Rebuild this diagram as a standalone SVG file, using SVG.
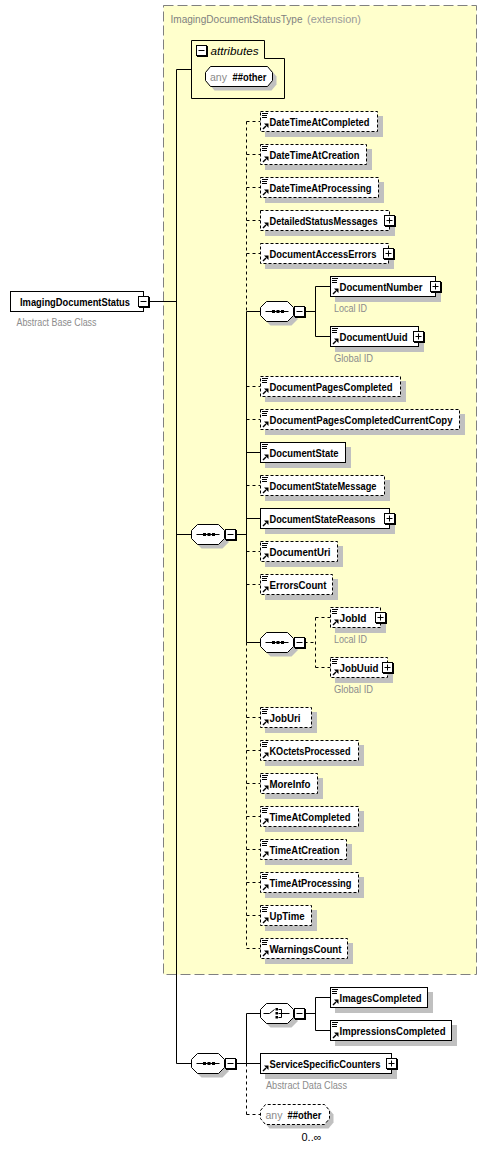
<svg xmlns="http://www.w3.org/2000/svg" xmlns:xlink="http://www.w3.org/1999/xlink" width="487" height="1149" viewBox="0 0 487 1149">
<style>
.ln{stroke:#000;stroke-width:1;fill:none}
.dl{stroke:#000;stroke-width:1;fill:none;stroke-dasharray:3,3}
.box{fill:#fff;stroke:#000;stroke-width:1}
.dbox{fill:#fff;stroke:#000;stroke-width:1;stroke-dasharray:3,2}
.sh{fill:#c0c0c0;stroke:none}
.nm{font-family:"Liberation Sans",Arial,sans-serif;font-size:11px;font-weight:bold;fill:#000}
.gl{font-family:"Liberation Sans",Arial,sans-serif;font-size:10.5px;fill:#8c8c8c}
.ttl{font-family:"Liberation Sans",Arial,sans-serif;font-size:10px;fill:#7f7f7f}
.it{font-family:"Liberation Sans",Arial,sans-serif;font-size:11px;font-style:italic;fill:#000}
.any{font-family:"Liberation Sans",Arial,sans-serif;font-size:11px;fill:#8c8c8c}
.occ{font-family:"Liberation Sans",Arial,sans-serif;font-size:11px;fill:#000}
</style>
<defs>
<path id="octp" d="M0,-4 L6,-10 H27 L33,-4 V4 L27,10 H6 L0,4 Z"/>
<g id="oct"><use xlink:href="#octp" href="#octp" transform="translate(4,4)" class="sh"/><use xlink:href="#octp" href="#octp" class="box"/></g>
<g id="seqic"><path d="M5,0 H28" class="ln"/><rect x="11.5" y="-1.5" width="3" height="3" fill="#000"/><rect x="16" y="-1.5" width="3" height="3" fill="#000"/><rect x="20.5" y="-1.5" width="3" height="3" fill="#000"/></g>
<g id="choiceic"><path d="M3,0 H9 L14,-4" class="ln"/><rect x="15" y="-5.5" width="2.5" height="2.5" fill="#000"/><rect x="15" y="-1.5" width="2.5" height="2.5" fill="#000"/><rect x="15" y="2.5" width="2.5" height="2.5" fill="#000"/><path d="M18,-4 H21 V4 H18 M18,0 H29" class="ln"/></g>
<g id="minus"><rect x="-4" y="-4" width="10" height="10" class="ln"/><rect x="-5" y="-5" width="10" height="10" class="box"/><path d="M-3,0 H3" class="ln"/></g>
<g id="plus"><rect x="-4" y="-4" width="10" height="10" class="ln"/><rect x="-5" y="-5" width="10" height="10" class="box"/><path d="M-3,0 H3 M0,-3 V3" class="ln"/></g>
<g id="icl"><path d="M1.5,2 H7.5 M1.5,4 H6.5 M1.5,6 H6.5" class="ln"/></g>
<g id="ica"><path d="M2.5,-2.5 L5.5,-5.5" stroke="#000" stroke-width="1.5" fill="none"/><path d="M3.5,-8 H8 V-3.5 Z" fill="#000"/></g>
</defs>
<rect width="487" height="1149" fill="#fff"/>

<g id="ImagingDocumentStatusType">
<rect x="163.5" y="5.5" width="313" height="969" fill="#ffffcc" stroke="#808080" stroke-dasharray="10,4"/>
<text class="ttl" x="170.5" y="23" textLength="132" lengthAdjust="spacingAndGlyphs">ImagingDocumentStatusType</text>
<text class="ttl" x="307" y="23" style="fill:#9a9a9a" textLength="54" lengthAdjust="spacingAndGlyphs">(extension)</text>
</g>

<g id="connectors">
<path class="ln" d="M148.5,301.5 H176.5 M176.5,69.5 V1063.5 M176.5,69.5 H191.5 M176.5,534.5 H191.5 M176.5,1063.5 H191.5"/>
<path class="ln" d="M235.5,534.5 H246.5 M246.5,311.5 V642.5 M246.5,311.5 H260.5 M246.5,452.5 H260.5 M246.5,518.5 H260.5 M246.5,642.5 H260.5"/>
<path class="dl" d="M246.5,121.5 V311.5 M246.5,642.5 V948.5"/>
<path class="dl" d="M246.5,121.5 H260.5 M246.5,154.5 H260.5 M246.5,187.5 H260.5 M246.5,220.5 H260.5 M246.5,253.5 H260.5 M246.5,386.5 H260.5 M246.5,419.5 H260.5 M246.5,485.5 H260.5 M246.5,551.5 H260.5 M246.5,584.5 H260.5 M246.5,717.5 H260.5 M246.5,750.5 H260.5 M246.5,783.5 H260.5 M246.5,816.5 H260.5 M246.5,849.5 H260.5 M246.5,882.5 H260.5 M246.5,915.5 H260.5 M246.5,948.5 H260.5"/>
<path class="ln" d="M304.5,311.5 H315.5 M315.5,286.5 V336.5 M315.5,286.5 H330.5 M315.5,336.5 H330.5"/>
<path class="dl" d="M304.5,642.5 H315.5 M315.5,617.5 V667.5 M315.5,617.5 H330.5 M315.5,667.5 H330.5"/>
<path class="ln" d="M235.5,1063.5 H246.5 M246.5,1013.5 V1063.5 M246.5,1013.5 H260.5 M246.5,1063.5 H260.5"/>
<path class="dl" d="M246.5,1063.5 V1114.5 M246.5,1114.5 H260.5"/>
<path class="ln" d="M304.5,1013.5 H315.5 M315.5,997.5 V1030.5 M315.5,997.5 H330.5 M315.5,1030.5 H330.5"/>
</g>

<g id="ImagingDocumentStatus">
<rect class="box" x="10.5" y="291.5" width="133" height="20"/>
<text class="nm" x="20" y="305.5" textLength="110" lengthAdjust="spacingAndGlyphs">ImagingDocumentStatus</text>
<use xlink:href="#minus" href="#minus" x="143.5" y="301.5"/>
<text class="gl" x="16.5" y="326" textLength="80" lengthAdjust="spacingAndGlyphs">Abstract Base Class</text>
</g>

<g id="attributes">
<path class="ln" d="M191.5,40.5 H264.5 V58.5 H284.5 V98.5 H191.5 Z"/>
<use xlink:href="#minus" href="#minus" x="201.5" y="50.5"/>
<text class="it" x="210.5" y="54.5" textLength="48" lengthAdjust="spacingAndGlyphs">attributes</text>
<path class="sh" d="M209.5,76.5 L214.5,70.5 H271.5 L276.5,76.5 V84.5 L271.5,90.5 H214.5 L209.5,84.5 Z"/>
<path class="box" stroke-linejoin="round" d="M205.5,72.5 L210.5,66.5 H267.5 L272.5,72.5 V80.5 L267.5,86.5 H210.5 L205.5,80.5 Z"/>
<text class="any" x="210" y="80.5" textLength="17" lengthAdjust="spacingAndGlyphs">any</text>
<text class="nm" x="232.5" y="80.5" textLength="34" lengthAdjust="spacingAndGlyphs">##other</text>
</g>

<g id="sequence-main">
<use xlink:href="#oct" href="#oct" x="191.5" y="534.5"/>
<use xlink:href="#seqic" href="#seqic" x="191.5" y="534.5"/>
<use xlink:href="#minus" href="#minus" x="230.5" y="534.5"/>
</g>

<g id="DateTimeAtCompleted"><rect class="sh" x="265" y="116" width="118" height="21"/><rect class="dbox" x="260.5" y="111.5" width="117" height="20"/><use xlink:href="#icl" href="#icl" x="260.5" y="111.5"/><use xlink:href="#ica" href="#ica" x="260.5" y="131.5"/><text class="nm" x="269.5" y="125.5" textLength="100" lengthAdjust="spacingAndGlyphs">DateTimeAtCompleted</text></g>
<g id="DateTimeAtCreation"><rect class="sh" x="265" y="149" width="107" height="21"/><rect class="dbox" x="260.5" y="144.5" width="106" height="20"/><use xlink:href="#icl" href="#icl" x="260.5" y="144.5"/><use xlink:href="#ica" href="#ica" x="260.5" y="164.5"/><text class="nm" x="269.5" y="158.5" textLength="90" lengthAdjust="spacingAndGlyphs">DateTimeAtCreation</text></g>
<g id="DateTimeAtProcessing"><rect class="sh" x="265" y="182" width="119" height="21"/><rect class="dbox" x="260.5" y="177.5" width="118" height="20"/><use xlink:href="#icl" href="#icl" x="260.5" y="177.5"/><use xlink:href="#ica" href="#ica" x="260.5" y="197.5"/><text class="nm" x="269.5" y="191.5" textLength="102" lengthAdjust="spacingAndGlyphs">DateTimeAtProcessing</text></g>
<g id="DetailedStatusMessages"><rect class="sh" x="265" y="215" width="130" height="21"/><rect class="dbox" x="260.5" y="210.5" width="129" height="20"/><use xlink:href="#ica" href="#ica" x="260.5" y="230.5"/><text class="nm" x="269.5" y="224.5" textLength="108" lengthAdjust="spacingAndGlyphs">DetailedStatusMessages</text><use xlink:href="#plus" href="#plus" x="389.5" y="220.5"/></g>
<g id="DocumentAccessErrors"><rect class="sh" x="265" y="248" width="129" height="21"/><rect class="dbox" x="260.5" y="243.5" width="128" height="20"/><use xlink:href="#ica" href="#ica" x="260.5" y="263.5"/><text class="nm" x="269.5" y="257.5" textLength="107" lengthAdjust="spacingAndGlyphs">DocumentAccessErrors</text><use xlink:href="#plus" href="#plus" x="388.5" y="253.5"/></g>

<g id="sequence-document">
<use xlink:href="#oct" href="#oct" x="260.5" y="311.5"/>
<use xlink:href="#seqic" href="#seqic" x="260.5" y="311.5"/>
<use xlink:href="#minus" href="#minus" x="299.5" y="311.5"/>
</g>
<g id="DocumentNumber"><rect class="sh" x="335" y="281" width="106" height="21"/><rect class="box" x="330.5" y="276.5" width="105" height="20"/><use xlink:href="#icl" href="#icl" x="330.5" y="276.5"/><use xlink:href="#ica" href="#ica" x="330.5" y="296.5"/><text class="nm" x="339.5" y="290.5" textLength="83" lengthAdjust="spacingAndGlyphs">DocumentNumber</text><use xlink:href="#plus" href="#plus" x="435.5" y="286.5"/><text class="gl" x="334" y="312" textLength="33" lengthAdjust="spacingAndGlyphs">Local ID</text></g>
<g id="DocumentUuid"><rect class="sh" x="335" y="331" width="89" height="21"/><rect class="box" x="330.5" y="326.5" width="88" height="20"/><use xlink:href="#icl" href="#icl" x="330.5" y="326.5"/><use xlink:href="#ica" href="#ica" x="330.5" y="346.5"/><text class="nm" x="339.5" y="340.5" textLength="68" lengthAdjust="spacingAndGlyphs">DocumentUuid</text><use xlink:href="#plus" href="#plus" x="418.5" y="336.5"/><text class="gl" x="334" y="362" textLength="39" lengthAdjust="spacingAndGlyphs">Global ID</text></g>

<g id="DocumentPagesCompleted"><rect class="sh" x="265" y="381" width="141" height="21"/><rect class="dbox" x="260.5" y="376.5" width="140" height="20"/><use xlink:href="#icl" href="#icl" x="260.5" y="376.5"/><use xlink:href="#ica" href="#ica" x="260.5" y="396.5"/><text class="nm" x="269.5" y="390.5" textLength="123" lengthAdjust="spacingAndGlyphs">DocumentPagesCompleted</text></g>
<g id="DocumentPagesCompletedCurrentCopy"><rect class="sh" x="265" y="414" width="200" height="21"/><rect class="dbox" x="260.5" y="409.5" width="199" height="20"/><use xlink:href="#icl" href="#icl" x="260.5" y="409.5"/><use xlink:href="#ica" href="#ica" x="260.5" y="429.5"/><text class="nm" x="269.5" y="423.5" textLength="183" lengthAdjust="spacingAndGlyphs">DocumentPagesCompletedCurrentCopy</text></g>
<g id="DocumentState"><rect class="sh" x="265" y="447" width="86" height="21"/><rect class="box" x="260.5" y="442.5" width="85" height="20"/><use xlink:href="#icl" href="#icl" x="260.5" y="442.5"/><use xlink:href="#ica" href="#ica" x="260.5" y="462.5"/><text class="nm" x="269.5" y="456.5" textLength="69" lengthAdjust="spacingAndGlyphs">DocumentState</text></g>
<g id="DocumentStateMessage"><rect class="sh" x="265" y="480" width="125" height="21"/><rect class="dbox" x="260.5" y="475.5" width="124" height="20"/><use xlink:href="#icl" href="#icl" x="260.5" y="475.5"/><use xlink:href="#ica" href="#ica" x="260.5" y="495.5"/><text class="nm" x="269.5" y="489.5" textLength="107" lengthAdjust="spacingAndGlyphs">DocumentStateMessage</text></g>
<g id="DocumentStateReasons"><rect class="sh" x="265" y="513" width="130" height="21"/><rect class="box" x="260.5" y="508.5" width="129" height="20"/><use xlink:href="#ica" href="#ica" x="260.5" y="528.5"/><text class="nm" x="269.5" y="522.5" textLength="106" lengthAdjust="spacingAndGlyphs">DocumentStateReasons</text><use xlink:href="#plus" href="#plus" x="389.5" y="518.5"/></g>
<g id="DocumentUri"><rect class="sh" x="265" y="546" width="78" height="21"/><rect class="dbox" x="260.5" y="541.5" width="77" height="20"/><use xlink:href="#icl" href="#icl" x="260.5" y="541.5"/><use xlink:href="#ica" href="#ica" x="260.5" y="561.5"/><text class="nm" x="269.5" y="555.5" textLength="61" lengthAdjust="spacingAndGlyphs">DocumentUri</text></g>
<g id="ErrorsCount"><rect class="sh" x="265" y="579" width="73" height="21"/><rect class="dbox" x="260.5" y="574.5" width="72" height="20"/><use xlink:href="#icl" href="#icl" x="260.5" y="574.5"/><use xlink:href="#ica" href="#ica" x="260.5" y="594.5"/><text class="nm" x="269.5" y="588.5" textLength="57" lengthAdjust="spacingAndGlyphs">ErrorsCount</text></g>

<g id="sequence-job">
<use xlink:href="#oct" href="#oct" x="260.5" y="642.5"/>
<use xlink:href="#seqic" href="#seqic" x="260.5" y="642.5"/>
<use xlink:href="#minus" href="#minus" x="299.5" y="642.5"/>
</g>
<g id="JobId"><rect class="sh" x="335" y="612" width="51" height="21"/><rect class="dbox" x="330.5" y="607.5" width="50" height="20"/><use xlink:href="#icl" href="#icl" x="330.5" y="607.5"/><use xlink:href="#ica" href="#ica" x="330.5" y="627.5"/><text class="nm" x="339.5" y="621.5" textLength="27" lengthAdjust="spacingAndGlyphs">JobId</text><use xlink:href="#plus" href="#plus" x="380.5" y="617.5"/><text class="gl" x="334" y="643" textLength="33" lengthAdjust="spacingAndGlyphs">Local ID</text></g>
<g id="JobUuid"><rect class="sh" x="335" y="662" width="58" height="21"/><rect class="dbox" x="330.5" y="657.5" width="57" height="20"/><use xlink:href="#icl" href="#icl" x="330.5" y="657.5"/><use xlink:href="#ica" href="#ica" x="330.5" y="677.5"/><text class="nm" x="339.5" y="671.5" textLength="39" lengthAdjust="spacingAndGlyphs">JobUuid</text><use xlink:href="#plus" href="#plus" x="387.5" y="667.5"/><text class="gl" x="334" y="693" textLength="39" lengthAdjust="spacingAndGlyphs">Global ID</text></g>

<g id="JobUri"><rect class="sh" x="265" y="712" width="52" height="21"/><rect class="dbox" x="260.5" y="707.5" width="51" height="20"/><use xlink:href="#icl" href="#icl" x="260.5" y="707.5"/><use xlink:href="#ica" href="#ica" x="260.5" y="727.5"/><text class="nm" x="269.5" y="721.5" textLength="31" lengthAdjust="spacingAndGlyphs">JobUri</text></g>
<g id="KOctetsProcessed"><rect class="sh" x="265" y="745" width="99" height="21"/><rect class="dbox" x="260.5" y="740.5" width="98" height="20"/><use xlink:href="#icl" href="#icl" x="260.5" y="740.5"/><use xlink:href="#ica" href="#ica" x="260.5" y="760.5"/><text class="nm" x="269.5" y="754.5" textLength="81" lengthAdjust="spacingAndGlyphs">KOctetsProcessed</text></g>
<g id="MoreInfo"><rect class="sh" x="265" y="778" width="58" height="21"/><rect class="dbox" x="260.5" y="773.5" width="57" height="20"/><use xlink:href="#icl" href="#icl" x="260.5" y="773.5"/><use xlink:href="#ica" href="#ica" x="260.5" y="793.5"/><text class="nm" x="269.5" y="787.5" textLength="41" lengthAdjust="spacingAndGlyphs">MoreInfo</text></g>
<g id="TimeAtCompleted"><rect class="sh" x="265" y="811" width="99" height="21"/><rect class="dbox" x="260.5" y="806.5" width="98" height="20"/><use xlink:href="#icl" href="#icl" x="260.5" y="806.5"/><use xlink:href="#ica" href="#ica" x="260.5" y="826.5"/><text class="nm" x="269.5" y="820.5" textLength="81" lengthAdjust="spacingAndGlyphs">TimeAtCompleted</text></g>
<g id="TimeAtCreation"><rect class="sh" x="265" y="844" width="87" height="21"/><rect class="dbox" x="260.5" y="839.5" width="86" height="20"/><use xlink:href="#icl" href="#icl" x="260.5" y="839.5"/><use xlink:href="#ica" href="#ica" x="260.5" y="859.5"/><text class="nm" x="269.5" y="853.5" textLength="70" lengthAdjust="spacingAndGlyphs">TimeAtCreation</text></g>
<g id="TimeAtProcessing"><rect class="sh" x="265" y="877" width="99" height="21"/><rect class="dbox" x="260.5" y="872.5" width="98" height="20"/><use xlink:href="#icl" href="#icl" x="260.5" y="872.5"/><use xlink:href="#ica" href="#ica" x="260.5" y="892.5"/><text class="nm" x="269.5" y="886.5" textLength="82" lengthAdjust="spacingAndGlyphs">TimeAtProcessing</text></g>
<g id="UpTime"><rect class="sh" x="265" y="910" width="52" height="21"/><rect class="dbox" x="260.5" y="905.5" width="51" height="20"/><use xlink:href="#icl" href="#icl" x="260.5" y="905.5"/><use xlink:href="#ica" href="#ica" x="260.5" y="925.5"/><text class="nm" x="269.5" y="919.5" textLength="35" lengthAdjust="spacingAndGlyphs">UpTime</text></g>
<g id="WarningsCount"><rect class="sh" x="265" y="943" width="88" height="21"/><rect class="dbox" x="260.5" y="938.5" width="87" height="20"/><use xlink:href="#icl" href="#icl" x="260.5" y="938.5"/><use xlink:href="#ica" href="#ica" x="260.5" y="958.5"/><text class="nm" x="269.5" y="952.5" textLength="72" lengthAdjust="spacingAndGlyphs">WarningsCount</text></g>

<g id="sequence-bottom">
<use xlink:href="#oct" href="#oct" x="191.5" y="1063.5"/>
<use xlink:href="#seqic" href="#seqic" x="191.5" y="1063.5"/>
<use xlink:href="#minus" href="#minus" x="230.5" y="1063.5"/>
</g>
<g id="choice">
<use xlink:href="#oct" href="#oct" x="260.5" y="1013.5"/>
<use xlink:href="#choiceic" href="#choiceic" x="260.5" y="1013.5"/>
<use xlink:href="#minus" href="#minus" x="299.5" y="1013.5"/>
</g>
<g id="ImagesCompleted"><rect class="sh" x="335" y="992" width="98" height="21"/><rect class="box" x="330.5" y="987.5" width="97" height="20"/><use xlink:href="#icl" href="#icl" x="330.5" y="987.5"/><use xlink:href="#ica" href="#ica" x="330.5" y="1007.5"/><text class="nm" x="339.5" y="1001.5" textLength="82" lengthAdjust="spacingAndGlyphs">ImagesCompleted</text></g>
<g id="ImpressionsCompleted"><rect class="sh" x="335" y="1025" width="122" height="21"/><rect class="box" x="330.5" y="1020.5" width="121" height="20"/><use xlink:href="#icl" href="#icl" x="330.5" y="1020.5"/><use xlink:href="#ica" href="#ica" x="330.5" y="1040.5"/><text class="nm" x="339.5" y="1034.5" textLength="106" lengthAdjust="spacingAndGlyphs">ImpressionsCompleted</text></g>
<g id="ServiceSpecificCounters"><rect class="sh" x="265" y="1058" width="132" height="21"/><rect class="box" x="260.5" y="1053.5" width="131" height="20"/><use xlink:href="#ica" href="#ica" x="260.5" y="1073.5"/><text class="nm" x="269.5" y="1067.5" textLength="111" lengthAdjust="spacingAndGlyphs">ServiceSpecificCounters</text><use xlink:href="#plus" href="#plus" x="391.5" y="1063.5"/><text class="gl" x="266" y="1089" textLength="81" lengthAdjust="spacingAndGlyphs">Abstract Data Class</text></g>
<g id="any-other">
<path class="sh" d="M264.5,1114.5 L269.5,1108.5 H328.5 L333.5,1114.5 V1122.5 L328.5,1128.5 H269.5 L264.5,1122.5 Z"/>
<path class="dbox" stroke-linejoin="round" d="M260.5,1110.5 L265.5,1104.5 H324.5 L329.5,1110.5 V1118.5 L324.5,1124.5 H265.5 L260.5,1118.5 Z"/>
<text class="any" x="265.5" y="1118.5" textLength="17" lengthAdjust="spacingAndGlyphs">any</text>
<text class="nm" x="287.5" y="1118.5" textLength="34" lengthAdjust="spacingAndGlyphs">##other</text>
<text class="occ" x="301.5" y="1141" textLength="20" lengthAdjust="spacingAndGlyphs">0..∞</text>
</g>
</svg>
